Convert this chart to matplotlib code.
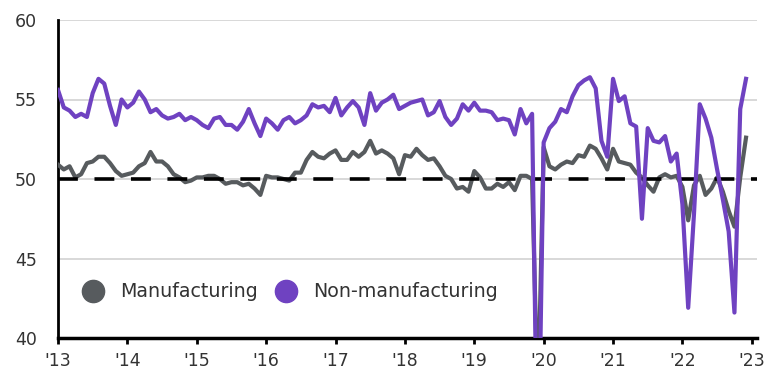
"""
China official PMIs: manufacturing and non-manufacturing, Mar 2013 - Feb 2023
"""

import matplotlib
matplotlib.use('Agg')
import matplotlib.pyplot as plt
from matplotlib.lines import Line2D
import numpy as np

#---------------------------------------------------------------------------------------------------
# Data (monthly, first value = Mar 2013, last value = Feb 2023)
#---------------------------------------------------------------------------------------------------

mfg = [50.9, 50.6, 50.8, 50.1, 50.3, 51.0, 51.1, 51.4, 51.4, 51.0,
       50.5, 50.2, 50.3, 50.4, 50.8, 51.0, 51.7, 51.1, 51.1, 50.8, 50.3, 50.1,
       49.8, 49.9, 50.1, 50.1, 50.2, 50.2, 50.0, 49.7, 49.8, 49.8, 49.6, 49.7,
       49.4, 49.0, 50.2, 50.1, 50.1, 50.0, 49.9, 50.4, 50.4, 51.2, 51.7, 51.4,
       51.3, 51.6, 51.8, 51.2, 51.2, 51.7, 51.4, 51.7, 52.4, 51.6, 51.8, 51.6,
       51.3, 50.3, 51.5, 51.4, 51.9, 51.5, 51.2, 51.3, 50.8, 50.2, 50.0, 49.4,
       49.5, 49.2, 50.5, 50.1, 49.4, 49.4, 49.7, 49.5, 49.8, 49.3, 50.2, 50.2,
       50.0, 35.7, 52.0, 50.8, 50.6, 50.9, 51.1, 51.0, 51.5, 51.4, 52.1, 51.9,
       51.3, 50.6, 51.9, 51.1, 51.0, 50.9, 50.4, 50.1, 49.6, 49.2, 50.1, 50.3,
       50.1, 50.2, 49.5, 47.4, 49.6, 50.2, 49.0, 49.4, 50.1, 49.2, 48.0, 47.0,
       50.1, 52.6]

non_mfg = [55.6, 54.5, 54.3, 53.9, 54.1, 53.9, 55.4, 56.3, 56.0, 54.6,
           53.4, 55.0, 54.5, 54.8, 55.5, 55.0, 54.2, 54.4, 54.0, 53.8, 53.9, 54.1,
           53.7, 53.9, 53.7, 53.4, 53.2, 53.8, 53.9, 53.4, 53.4, 53.1, 53.6, 54.4,
           53.5, 52.7, 53.8, 53.5, 53.1, 53.7, 53.9, 53.5, 53.7, 54.0, 54.7, 54.5,
           54.6, 54.2, 55.1, 54.0, 54.5, 54.9, 54.5, 53.4, 55.4, 54.3, 54.8, 55.0,
           55.3, 54.4, 54.6, 54.8, 54.9, 55.0, 54.0, 54.2, 54.9, 53.9, 53.4, 53.8,
           54.7, 54.3, 54.8, 54.3, 54.3, 54.2, 53.7, 53.8, 53.7, 52.8, 54.4, 53.5,
           54.1, 29.6, 52.3, 53.2, 53.6, 54.4, 54.2, 55.2, 55.9, 56.2, 56.4, 55.7,
           52.4, 51.4, 56.3, 54.9, 55.2, 53.5, 53.3, 47.5, 53.2, 52.4, 52.3, 52.7,
           51.1, 51.6, 48.4, 41.9, 47.8, 54.7, 53.8, 52.6, 50.6, 48.7, 46.7, 41.6,
           54.4, 56.3]

year_labels = ["'13", "'14", "'15", "'16", "'17", "'18", "'19", "'20", "'21", "'22", "'23"]
y_ticks = [40, 45, 50, 55, 60]
threshold = 50

# Colours
c_mfg = '#575b5e'
c_non = '#6f42c1'
c_text = '#333333'

#---------------------------------------------------------------------------------------------------
# Make Plot
#---------------------------------------------------------------------------------------------------

plt.rcParams['font.family'] = ['DejaVu Sans']

fig = plt.figure(figsize=(7.8, 3.83), dpi=100)
ax = fig.add_axes([58/780, 1 - 338/383, (757 - 58)/780, (338 - 20)/383])

x = np.arange(len(mfg))
ax.plot(x, mfg, color=c_mfg, lw=3, zorder=3)
ax.axhline(threshold, color='black', lw=2.6, dashes=(5.5, 4.6), zorder=4)
ax.plot(x, non_mfg, color=c_non, lw=3, zorder=5)

ax.set_ylim(y_ticks[0], y_ticks[-1])
ax.set_xlim(0, 120.9)
ax.set_yticks(y_ticks)
ax.set_xticks(np.arange(len(year_labels)) * 12)
ax.set_xticklabels(year_labels)

ax.yaxis.grid(True, color='#d2d2d2', lw=1.2, zorder=0)
ax.set_axisbelow(True)
for s in ['top', 'right']:
    ax.spines[s].set_visible(False)
ax.spines['left'].set_linewidth(2)
ax.spines['bottom'].set_linewidth(2.5)

ax.tick_params(axis='y', length=0, pad=15, labelsize=12.5, labelcolor=c_text)
ax.tick_params(axis='x', length=4, width=2, pad=6, labelsize=12.5, labelcolor=c_text)

handles = [Line2D([], [], ls='', marker='o', ms=16, color=c_mfg),
           Line2D([], [], ls='', marker='o', ms=16, color=c_non)]
ax.legend(handles, ['Manufacturing', 'Non-manufacturing'], ncol=2, frameon=False,
          loc='center left', bbox_to_anchor=(0.037, 0.145), borderpad=0, borderaxespad=0,
          handlelength=1, handletextpad=0.9, columnspacing=1.0, fontsize=13.7,
          labelcolor=c_text)

plt.savefig('out.png', dpi=100)
plt.close()
